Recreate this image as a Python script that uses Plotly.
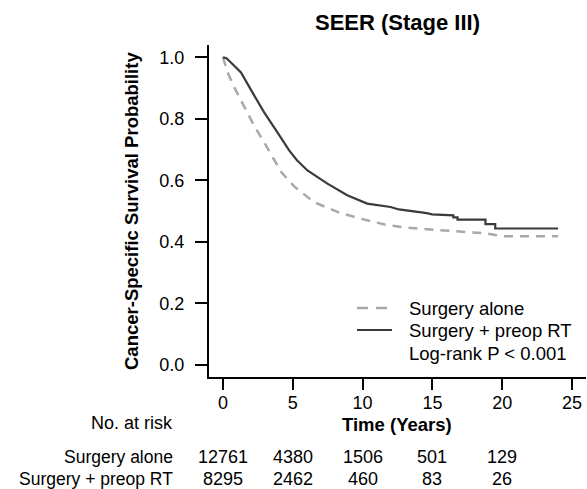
import plotly.graph_objects as go

# Kaplan-Meier curves
time_rt = [0, 0.25, 0.57, 1.29, 2.12, 2.95, 3.9, 4.74, 5.3, 6.05, 7.48, 8.9, 10.33, 12.0, 12.6, 13.55,
           14.6, 14.98, 16.5, 16.5, 16.8, 16.8, 18.8, 18.8, 19.5, 19.5, 24.0]
surv_rt = [1.0, 0.997, 0.983, 0.951, 0.885, 0.821, 0.756, 0.697, 0.665, 0.632, 0.589, 0.551, 0.524, 0.513, 0.505, 0.500,
           0.493, 0.489, 0.486, 0.479, 0.479, 0.472, 0.472, 0.457, 0.457, 0.443, 0.443]

time_alone = [0, 0.33, 0.81, 1.52, 2.24, 2.95, 3.5, 4.2, 5.1, 6.52, 8.19, 9.86, 11.76, 13.2, 15.1, 17.0,
              18.9, 19.5, 19.9, 24.0]
surv_alone = [1.0, 0.951, 0.902, 0.842, 0.777, 0.723, 0.680, 0.625, 0.580, 0.529, 0.497, 0.475, 0.454, 0.446, 0.439, 0.432,
              0.427, 0.422, 0.418, 0.418]

# Risk table
risk_times = [0, 5, 10, 15, 20]
risk_alone = [12761, 4380, 1506, 501, 129]
risk_rt = [8295, 2462, 460, 83, 26]

x_ticks = [0, 5, 10, 15, 20, 25]
y_ticks = [0.0, 0.2, 0.4, 0.6, 0.8, 1.0]

FONT = "Liberation Sans, Arial, sans-serif"
DASH_COL = "#a9a9a9"
SOLID_COL = "#3a3a3a"

fig = go.Figure()
fig.add_trace(go.Scatter(x=time_alone, y=surv_alone, mode="lines",
                         line=dict(color=DASH_COL, width=2.5, dash="9px,7px"),
                         showlegend=False, hoverinfo="skip"))
fig.add_trace(go.Scatter(x=time_rt, y=surv_rt, mode="lines",
                         line=dict(color=SOLID_COL, width=2.2),
                         showlegend=False, hoverinfo="skip"))

# figure fills the whole window (page margin removed below)
W, H = 587, 489
L, R, T, B = 209, 1, 45, 112
pw, ph = W - L - R, H - T - B


def px(x):
    return (x - L) / pw


def py(y):
    return (H - B - y) / ph


ann = []
ann.append(dict(text="<b>SEER (Stage III)</b>", x=px(397), y=py(22), xref="paper", yref="paper",
                showarrow=False, font=dict(size=22, color="black", family=FONT), xanchor="center", yanchor="middle"))
ann.append(dict(text="<b>Cancer-Specific Survival Probability</b>", x=px(131), y=py(211), xref="paper", yref="paper",
                showarrow=False, textangle=-90, font=dict(size=18.5, color="black", family=FONT),
                xanchor="center", yanchor="middle"))
ann.append(dict(text="<b>Time (Years)</b>", x=px(397), y=py(424), xref="paper", yref="paper",
                showarrow=False, font=dict(size=18.5, color="black", family=FONT), xanchor="center", yanchor="middle"))

# legend
leg_labels = ["Surgery alone", "Surgery + preop RT", "Log-rank P < 0.001"]
leg_y = [308, 330, 353]
for lab, yy in zip(leg_labels, leg_y):
    ann.append(dict(text=lab, x=px(407), y=py(yy), xref="paper", yref="paper", showarrow=False,
                    font=dict(size=18.5, color="black", family=FONT), xanchor="left", yanchor="middle"))

shapes = [
    dict(type="line", xref="paper", yref="paper", x0=px(357), x1=px(392), y0=py(308), y1=py(308),
         line=dict(color=DASH_COL, width=2.5, dash="11px,8px")),
    dict(type="line", xref="paper", yref="paper", x0=px(357), x1=px(392), y0=py(330), y1=py(330),
         line=dict(color=SOLID_COL, width=2.2)),
]

# risk table
ann.append(dict(text="No. at risk", x=px(175), y=py(423), xref="paper", yref="paper", showarrow=False,
                font=dict(size=18, color="black", family=FONT), xanchor="right", yanchor="middle"))
row_labels = ["Surgery alone", "Surgery + preop RT"]
row_y = [457, 479]
rows = [risk_alone, risk_rt]
for lab, yy, vals in zip(row_labels, row_y, rows):
    ann.append(dict(text=lab, x=px(175), y=py(yy), xref="paper", yref="paper", showarrow=False,
                    font=dict(size=17.5, color="black", family=FONT), xanchor="right", yanchor="middle"))
    for t, v in zip(risk_times, vals):
        ann.append(dict(text=str(v), x=t, y=py(yy), xref="x", yref="paper", showarrow=False,
                        font=dict(size=18, color="black", family=FONT), xanchor="center", yanchor="middle"))

fig.update_layout(
    width=W, height=H,
    margin=dict(l=L, r=R, t=T, b=B, pad=0),
    paper_bgcolor="white", plot_bgcolor="white",
    font=dict(family=FONT, color="black"),
    annotations=ann, shapes=shapes,
    xaxis=dict(range=[-1, 26], tickvals=x_ticks, ticks="outside", ticklen=11, tickwidth=2, tickcolor="black",
               showline=True, linecolor="black", linewidth=2, showgrid=False, zeroline=False,
               tickfont=dict(size=18, color="black", family=FONT), ticklabelstandoff=-3),
    yaxis=dict(range=[-0.04, 1.04], tickvals=y_ticks, tickformat=".1f", ticks="outside", ticklen=12, tickwidth=2,
               tickcolor="black", showline=True, linecolor="black", linewidth=2, showgrid=False, zeroline=False,
               tickfont=dict(size=18, color="black", family=FONT), ticklabelstandoff=7),
)

fig.write_html("out.html", config={"displayModeBar": False},
               post_script="document.body.style.margin='0';document.body.style.overflow='hidden';")
